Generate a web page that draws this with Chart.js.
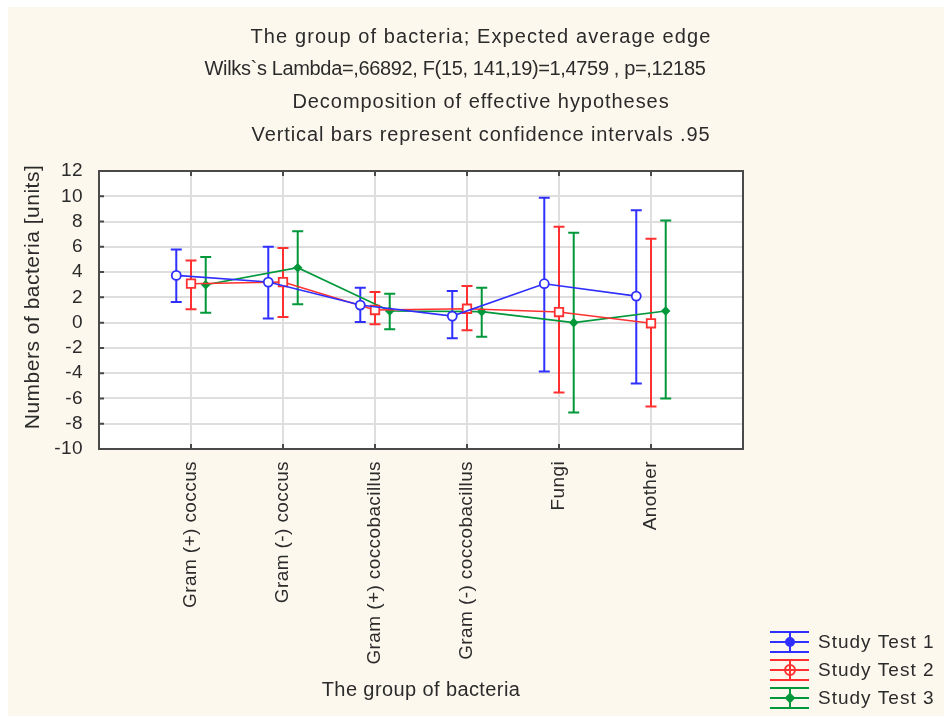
<!DOCTYPE html>
<html>
<head>
<meta charset="utf-8">
<title>The group of bacteria</title>
<script src="https://cdn.jsdelivr.net/npm/chart.js@4.4.0/dist/chart.umd.min.js"></script>
<style>
  html, body { margin: 0; padding: 0; background: #fff; }
  canvas { display: block; }
</style>
</head>
<body>
<canvas id="bacteriaChart" width="944" height="717"></canvas>
<script>
// Groups on the x axis
const categories = [
  "Gram (+) coccus",
  "Gram (-) coccus",
  "Gram (+) coccobacillus",
  "Gram (-) coccobacillus",
  "Fungi",
  "Another"
];

// Y axis tick values
const yTicks = [-10, -8, -6, -4, -2, 0, 2, 4, 6, 8, 10, 12];

// Study Test 1 - means and 95% confidence limits
const test1Mean = [3.74, 3.21, 1.39, 0.52, 3.08, 2.10];
const test1Low  = [1.63, 0.32, 0.05, -1.24, -3.87, -4.82];
const test1High = [5.79, 6.00, 2.77, 2.50, 9.88, 8.90];

// Study Test 2
const test2Mean = [3.08, 3.21, 1.00, 1.10, 0.84, -0.05];
const test2Low  = [1.05, 0.45, -0.13, -0.61, -5.53, -6.64];
const test2High = [4.92, 5.90, 2.42, 2.90, 7.59, 6.64];

// Study Test 3
const test3Mean = [3.00, 4.35, 0.92, 0.87, 0.00, 0.92];
const test3Low  = [0.79, 1.45, -0.53, -1.11, -7.11, -6.00];
const test3High = [5.19, 7.24, 2.29, 2.77, 7.11, 8.09];

const seriesNames = ["Study Test 1", "Study Test 2", "Study Test 3"];

const titleLines = [
  "The group of bacteria; Expected average edge",
  "Wilks`s Lambda=,66892, F(15, 141,19)=1,4759 , p=,12185",
  "Decomposition of effective hypotheses",
  "Vertical bars represent confidence intervals .95"
];
const yAxisTitle = "Numbers of bacteria [units]";

// Styles
const FONT = '"Liberation Sans", Arial, sans-serif';
const TEXT_COLOR = "#2b2b2b";
const seriesColors = ["#2f2fff", "#ff3030", "#00983a"];
const seriesShift = [-0.16, 0, 0.16];   // offset inside a group, in category units
const seriesPoint = [
  { style: "circle", radius: 4.5, fill: "#ffffff" },
  { style: "rect", radius: 6, fill: "#ffffff" },
  { style: "rectRot", radius: 3.5, fill: "#00983a" }
];
// title line layout: letter spacing and centre of each line
const titleSpacing = [1.1, -0.35, 0.95, 0.9];
const titleCenter = [481, 455, 481, 481];

function buildDataset(idx, means, low, high) {
  return {
    label: seriesNames[idx],
    data: means.map((v, i) => ({ x: i + seriesShift[idx], y: v, lo: low[i], hi: high[i] })),
    borderColor: seriesColors[idx],
    backgroundColor: seriesColors[idx],
    borderWidth: 1.6,
    tension: 0,
    pointStyle: seriesPoint[idx].style,
    pointRadius: seriesPoint[idx].radius,
    pointBackgroundColor: seriesPoint[idx].fill,
    pointBorderColor: seriesColors[idx],
    pointBorderWidth: 1.8
  };
}

// Background, plot frame, error bars, titles and legend
const framePlugin = {
  id: "framePlugin",
  beforeDraw(chart) {
    const { ctx, chartArea: a } = chart;
    ctx.save();
    ctx.fillStyle = "#ffffff";
    ctx.fillRect(0, 0, chart.width, chart.height);
    ctx.fillStyle = "#fdf8ee";
    ctx.fillRect(8, 7, chart.width - 8, chart.height - 8);
    ctx.fillStyle = "#ffffff";
    ctx.fillRect(a.left, a.top, a.right - a.left, a.bottom - a.top);
    ctx.restore();
    // slight letter spacing for the axis labels drawn by Chart.js
    ctx.letterSpacing = "0.4px";
  },
  beforeDatasetsDraw(chart) {
    const { ctx, chartArea: a, scales: { x, y } } = chart;
    ctx.save();
    ctx.strokeStyle = "#4a4a4a";
    ctx.lineWidth = 2;
    ctx.strokeRect(a.left, a.top, a.right - a.left, a.bottom - a.top);
    ctx.beginPath();
    y.ticks.forEach(t => {
      const py = y.getPixelForValue(t.value);
      ctx.moveTo(a.left, py);
      ctx.lineTo(a.left + 5, py);
    });
    x.ticks.forEach(t => {
      const px = x.getPixelForValue(t.value);
      ctx.moveTo(px, a.top);
      ctx.lineTo(px, a.top + 5);
      ctx.moveTo(px, a.bottom);
      ctx.lineTo(px, a.bottom - 5);
    });
    ctx.stroke();

    // error bars under the lines and markers
    chart.data.datasets.forEach(ds => {
      ctx.strokeStyle = ds.borderColor;
      ctx.lineWidth = 2;
      ctx.beginPath();
      ds.data.forEach(p => {
        const px = x.getPixelForValue(p.x);
        const top = y.getPixelForValue(p.hi);
        const bot = y.getPixelForValue(p.lo);
        ctx.moveTo(px, top);
        ctx.lineTo(px, bot);
        ctx.moveTo(px - 5.5, top);
        ctx.lineTo(px + 5.5, top);
        ctx.moveTo(px - 5.5, bot);
        ctx.lineTo(px + 5.5, bot);
      });
      ctx.stroke();
    });
    ctx.restore();
  },
  afterDraw(chart) {
    const { ctx } = chart;
    ctx.save();
    ctx.fillStyle = TEXT_COLOR;
    ctx.textAlign = "center";
    ctx.textBaseline = "middle";
    ctx.font = "20px " + FONT;
    titleLines.forEach((line, i) => {
      ctx.letterSpacing = titleSpacing[i] + "px";
      ctx.fillText(line, titleCenter[i], 37 + i * 32.7);
    });

    // y axis title
    ctx.save();
    ctx.font = "21px " + FONT;
    ctx.letterSpacing = "0.5px";
    ctx.translate(33, 297);
    ctx.rotate(-Math.PI / 2);
    ctx.fillText(yAxisTitle, 0, 0);
    ctx.restore();

    // legend
    ctx.font = "19px " + FONT;
    ctx.letterSpacing = "1px";
    ctx.textAlign = "left";
    chart.data.datasets.forEach((ds, i) => {
      const cy = 642 + i * 28;
      ctx.strokeStyle = ds.borderColor;
      ctx.lineWidth = 2;
      ctx.beginPath();
      ctx.moveTo(770, cy - 10); ctx.lineTo(809, cy - 10);
      ctx.moveTo(770, cy); ctx.lineTo(809, cy);
      ctx.moveTo(770, cy + 10); ctx.lineTo(809, cy + 10);
      ctx.moveTo(790, cy - 10); ctx.lineTo(790, cy + 10);
      ctx.stroke();
      ctx.fillStyle = i === 1 ? "rgba(0,0,0,0)" : ds.borderColor;
      Chart.helpers.drawPoint(ctx, {
        pointStyle: i === 1 ? "circle" : ds.pointStyle,
        radius: i === 1 ? 5 : 4,
        rotation: 0,
        borderWidth: 1.8
      }, 790, cy);
      ctx.fillStyle = TEXT_COLOR;
      ctx.fillText(ds.label, 818, cy + 1);
    });
    ctx.restore();
  }
};

const ctx = document.getElementById("bacteriaChart").getContext("2d");
new Chart(ctx, {
  type: "line",
  data: {
    datasets: [
      buildDataset(0, test1Mean, test1Low, test1High),
      buildDataset(1, test2Mean, test2Low, test2High),
      buildDataset(2, test3Mean, test3Low, test3High)
    ]
  },
  options: {
    responsive: false,
    animation: false,
    layout: { padding: { top: 171, right: 201, bottom: 0, left: 0 } },
    plugins: {
      legend: { display: false },
      tooltip: { enabled: false },
      title: { display: false }
    },
    scales: {
      x: {
        type: "linear",
        min: -1,
        max: 6,
        afterBuildTicks: scale => {
          scale.ticks = categories.map((c, i) => ({ value: i }));
        },
        afterFit: scale => { scale.height = 268; },
        grid: { color: "#dedede", lineWidth: 2, drawTicks: false },
        border: { display: false },
        ticks: {
          autoSkip: false,
          minRotation: 90,
          maxRotation: 90,
          padding: 12,
          color: TEXT_COLOR,
          font: { family: FONT, size: 19 },
          callback: value => categories[value]
        },
        title: {
          display: true,
          text: "The group of bacteria",
          color: TEXT_COLOR,
          font: { family: FONT, size: 20 },
          padding: { top: 0, bottom: 15 }
        }
      },
      y: {
        min: -10,
        max: 12,
        afterBuildTicks: scale => {
          scale.ticks = yTicks.map(v => ({ value: v }));
        },
        afterFit: scale => { scale.width = 99; },
        grid: { color: "#dedede", lineWidth: 2, drawTicks: false },
        border: { display: false },
        ticks: {
          autoSkip: false,
          padding: 16,
          color: TEXT_COLOR,
          font: { family: FONT, size: 19 }
        }
      }
    }
  },
  plugins: [framePlugin]
});
</script>
</body>
</html>
